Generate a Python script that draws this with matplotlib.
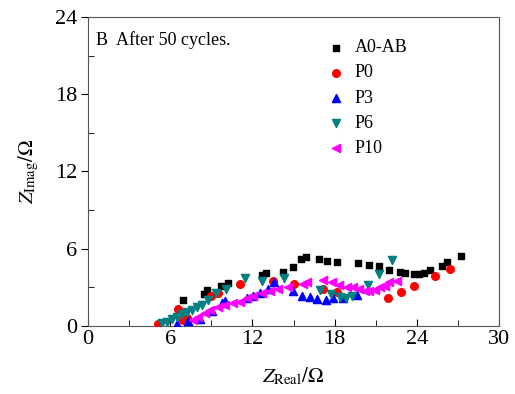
import matplotlib.pyplot as plt
from matplotlib.ticker import MultipleLocator

plt.rcParams["font.family"] = "Liberation Serif"
plt.rcParams["mathtext.fontset"] = "stix"

# A0-AB
a0_x = [6.91, 8.49, 8.66, 9.69, 10.2, 12.68, 12.99, 14.26, 14.94, 15.55, 15.88,
        16.86, 17.47, 18.15, 19.73, 20.53, 21.24, 21.99, 22.77, 23.14, 23.80,
        24.18, 24.55, 24.96, 25.82, 26.18, 27.2]
a0_y = [1.97, 2.46, 2.80, 3.13, 3.32, 3.92, 4.09, 4.19, 4.61, 5.20, 5.38,
        5.20, 5.07, 4.95, 4.87, 4.74, 4.66, 4.35, 4.22, 4.14, 4.02,
        4.04, 4.14, 4.35, 4.68, 4.99, 5.44]

# P0
p0_x = [5.13, 6.55, 6.96, 7.2, 8.98, 9.51, 11.1, 13.53, 15.06, 17.18, 18.15,
        21.87, 22.82, 23.8, 25.33, 26.42]
p0_y = [0.13, 1.30, 0.47, 0.6, 2.28, 2.54, 3.24, 3.50, 3.26, 2.85, 2.62,
        2.15, 2.62, 3.11, 3.88, 4.40]

# P3
p3_x = [6.47, 7.32, 8.18, 9.03, 9.76, 10.0, 11.58, 12.07, 12.55, 13.16, 13.6,
        14.99, 15.6, 16.2, 16.74, 17.37, 17.9, 18.64, 19.61]
p3_y = [0.16, 0.39, 0.54, 1.19, 1.81, 1.95, 2.15, 2.28, 2.54, 2.85, 3.37,
        2.67, 2.33, 2.23, 2.07, 2.02, 2.15, 2.15, 2.41]

# P6
p6_x = [5.38, 5.74, 6.1, 6.47, 6.84, 7.2, 7.57, 7.95, 8.3, 8.78, 9.34, 10.07,
        11.45, 12.68, 14.3, 16.93, 17.7, 18.4, 18.83, 19.3, 20.46, 21.25, 22.19]
p6_y = [0.21, 0.33, 0.52, 0.72, 0.91, 1.11, 1.24, 1.45, 1.63, 1.97, 2.54, 2.85,
        3.68, 3.52, 3.70, 2.80, 2.45, 2.23, 2.15, 2.28, 3.21, 4.02, 5.13]

# P10
p10_x = [7.69, 8.05, 8.54, 8.9, 9.51, 10.0, 10.61, 11.1, 11.58, 12.07, 12.68,
         13.25, 13.85, 14.62, 15.67, 15.96, 17.18, 17.79, 18.33, 18.88, 19.36,
         19.8, 20.22, 20.53, 20.95, 21.31, 21.68, 21.99, 22.58]
p10_y = [0.47, 0.68, 0.98, 1.24, 1.5, 1.63, 1.81, 1.89, 2.15, 2.28, 2.59,
         2.7, 2.85, 3.05, 3.26, 3.37, 3.57, 3.37, 3.18, 3.05, 2.98,
         2.85, 2.72, 2.67, 2.80, 2.98, 3.13, 3.37, 3.52]

fig = plt.figure(figsize=(5.15, 3.94), dpi=100)
ax = fig.add_axes([0.171, 0.173, 0.798, 0.784])

ax.scatter(a0_x, a0_y, marker="s", s=22, c="black", label="A0-AB", zorder=3)
ax.scatter(p0_x, p0_y, marker="o", s=30, c="red", label="P0", zorder=3)
ax.scatter(p3_x, p3_y, marker="^", s=34, c="blue", label="P3", zorder=3)
ax.scatter(p6_x, p6_y, marker="v", s=34, c="#008080", label="P6", zorder=3)
ax.scatter(p10_x, p10_y, marker="<", s=34, c="magenta", label="P10", zorder=3)

ax.set_xlim(0, 30)
ax.set_ylim(0, 24)
ax.xaxis.set_major_locator(MultipleLocator(6))
ax.xaxis.set_minor_locator(MultipleLocator(3))
ax.yaxis.set_major_locator(MultipleLocator(6))
ax.yaxis.set_minor_locator(MultipleLocator(3))
ax.tick_params(which="both", labelsize=16)
ax.tick_params(axis="x", which="both", direction="in")
ax.tick_params(axis="y", which="major", direction="out")
ax.tick_params(axis="y", which="minor", direction="in")
ax.tick_params(which="major", length=5, pad=3)
ax.tick_params(which="minor", length=4)
for sp in ax.spines.values():
    sp.set_color("#555555")

ax.set_xlabel(r"$Z_{\mathrm{Real}}/\Omega$", fontsize=15, labelpad=12)
ax.set_ylabel(r"$Z_{\mathrm{Imag}}/\Omega$", fontsize=15, labelpad=10)

ax.text(0.02, 0.955, "B  After 50 cycles.", transform=ax.transAxes,
        fontsize=13, va="top", ha="left")
ax.legend(loc="upper left", bbox_to_anchor=(0.53, 0.98), frameon=False,
          fontsize=13, handletextpad=0.3, labelspacing=0.45, handlelength=1.5,
          scatterpoints=1)

fig.savefig("out.png", dpi=100)
